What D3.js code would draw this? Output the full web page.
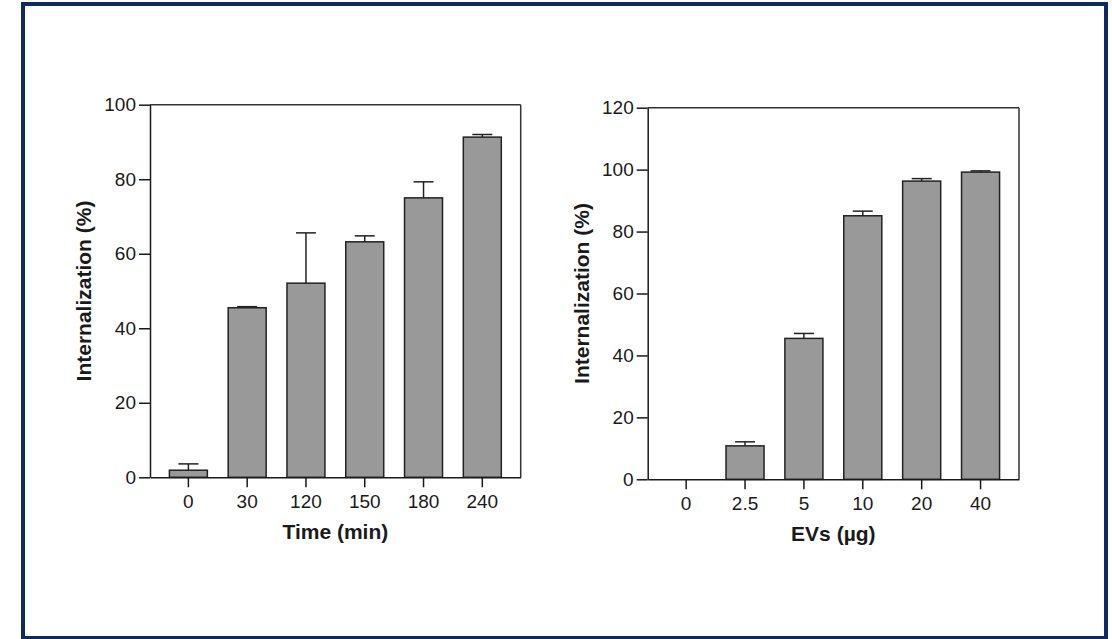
<!DOCTYPE html>
<html lang="en">
<head>
    <meta charset="UTF-8">
    <script src="https://d3js.org/d3.v7.min.js"></script>
    <title>Internalization</title>
    <style>
        body { margin: 0; background: #fff; }
        text { font-family: "Liberation Sans", Arial, sans-serif; fill: #1a1a1a; }
    </style>
</head>
<body>
    <div id="chart"></div>
<script>
    // left panel: time course
    const timeLabels = ['0', '30', '120', '150', '180', '240']
    const timeValues = [1.9, 45.5, 52.1, 63.2, 75.0, 91.3]
    const timeErrTop = [3.6, 45.8, 65.6, 64.8, 79.3, 92.0]
    const timeTicks = [0, 20, 40, 60, 80, 100]

    // right panel: dose
    const doseLabels = ['0', '2.5', '5', '10', '20', '40']
    const doseValues = [0, 10.8, 45.5, 85.1, 96.3, 99.2]
    const doseErrTop = [0, 12.1, 47.1, 86.6, 97.1, 99.6]
    const doseTicks = [0, 20, 40, 60, 80, 100, 120]

    let vm = {}
    vm.svg = d3.select('#chart').append('svg')
        .attr('width', 1112)
        .attr('height', 639)

    // navy frame
    vm.svg.append('rect')
        .attr('x', 23).attr('y', 4)
        .attr('width', 1083).attr('height', 634)
        .attr('fill', 'none')
        .attr('stroke', '#0f2a62')
        .attr('stroke-width', 4)

    drawPanel(vm, {
        left: 150, right: 520.7, top: 104.7, bottom: 477.3,
        yMax: 100, ticks: timeTicks,
        labels: timeLabels, values: timeValues, errTop: timeErrTop,
        xTitle: 'Time (min)'
    })
    drawPanel(vm, {
        left: 647.7, right: 1019, top: 107.7, bottom: 479.3,
        yMax: 120, ticks: doseTicks,
        labels: doseLabels, values: doseValues, errTop: doseErrTop,
        xTitle: 'EVs (\u00b5g)'
    })

    function drawPanel(vm, p){
        let g = vm.svg.append('g')

        let X = d3.scaleBand()
            .domain(p.labels)
            .range([p.left, p.right])
            .paddingInner(0.354)
            .paddingOuter(0.33)
        let Y = d3.scaleLinear()
            .domain([0, p.yMax])
            .range([p.bottom, p.top])

        let data = p.labels.map((d, i) => ({ k: d, v: p.values[i], e: p.errTop[i] }))

        // box: top and right sides
        g.append('line')
            .attr('x1', p.left).attr('x2', p.right)
            .attr('y1', p.top).attr('y2', p.top)
            .attr('stroke', '#333').attr('stroke-width', 1.5)
        g.append('line')
            .attr('x1', p.right).attr('x2', p.right)
            .attr('y1', p.top).attr('y2', p.bottom)
            .attr('stroke', '#333').attr('stroke-width', 1.5)

        // error bars (drawn behind the bars)
        let cap = 20
        let eb = g.append('g').selectAll('g').data(data.filter(d => d.e > d.v)).enter().append('g')
        eb.append('line')
            .attr('x1', d => X(d.k) + X.bandwidth() / 2)
            .attr('x2', d => X(d.k) + X.bandwidth() / 2)
            .attr('y1', d => Y(d.v))
            .attr('y2', d => Y(d.e))
            .attr('stroke', '#222').attr('stroke-width', 1.5)
        eb.append('line')
            .attr('x1', d => X(d.k) + X.bandwidth() / 2 - cap / 2)
            .attr('x2', d => X(d.k) + X.bandwidth() / 2 + cap / 2)
            .attr('y1', d => Y(d.e))
            .attr('y2', d => Y(d.e))
            .attr('stroke', '#222').attr('stroke-width', 1.5)

        g.append('g').selectAll('rect').data(data).enter().append('rect')
            .attr('x', d => X(d.k))
            .attr('y', d => Y(d.v))
            .attr('width', X.bandwidth())
            .attr('height', d => Y(0) - Y(d.v))
            .attr('fill', '#999999')
            .attr('stroke', '#222')
            .attr('stroke-width', 1.5)

        // axes
        let xa = g.append('g')
            .attr('transform', 'translate(0,' + p.bottom + ')')
            .call(d3.axisBottom(X).tickSize(10).tickSizeOuter(0).tickPadding(7))
        let ya = g.append('g')
            .attr('transform', 'translate(' + p.left + ',0)')
            .call(d3.axisLeft(Y).tickValues(p.ticks).tickSize(11).tickSizeOuter(0).tickPadding(3))
        ;[xa, ya].forEach(a => {
            a.selectAll('path, line').attr('stroke', '#1a1a1a').attr('stroke-width', 1.5)
            a.selectAll('text').style('font-size', '19px').attr('fill', '#1a1a1a')
                .style('font-family', '"Liberation Sans", Arial, sans-serif')
        })

        // titles
        g.append('text')
            .attr('x', (p.left + p.right) / 2)
            .attr('y', p.bottom + 62)
            .attr('text-anchor', 'middle')
            .style('font-size', '21px')
            .style('font-weight', 'bold')
            .text(p.xTitle)
        g.append('text')
            .attr('transform', 'translate(' + (p.left - 59) + ',' + ((p.top + p.bottom) / 2) + ') rotate(-90)')
            .attr('text-anchor', 'middle')
            .style('font-size', '21px')
            .style('font-weight', 'bold')
            .text('Internalization (%)')
    }
</script>
</body>
</html>
